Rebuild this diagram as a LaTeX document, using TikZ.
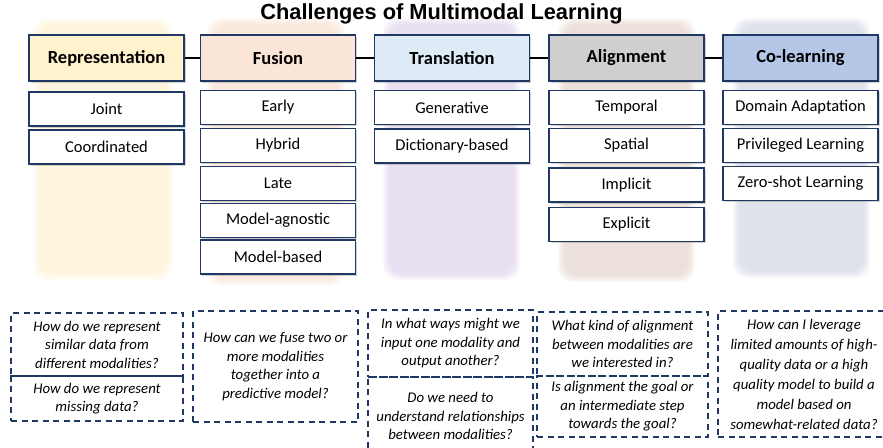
\documentclass[tikz,border=0pt]{standalone}
\usepackage{fontspec}
\setmainfont{Carlito}
\newfontfamily\titlefont{Liberation Sans}
\usetikzlibrary{calc}
\usetikzlibrary{shadows}

\definecolor{navy}{HTML}{1F3864}
\definecolor{repcol}{HTML}{FFF2CC}
\definecolor{fuscol}{HTML}{FBE5D6}
\definecolor{transcol}{HTML}{DEEBF7}
\definecolor{aligncol}{HTML}{D0CECE}
\definecolor{colcol}{HTML}{B4C7E7}
\definecolor{repbg}{HTML}{FFF0CC}
\definecolor{fusbg}{HTML}{F8DCCB}
\definecolor{transbg}{HTML}{DCCDEA}
\definecolor{alignbg}{HTML}{E2D1C6}
\definecolor{colbg}{HTML}{CDD2DF}

\tikzset{
  head/.style={draw=navy, line width=1.5pt, minimum width=155pt, minimum height=46pt,
    font=\bfseries\fontsize{18.5}{20}\selectfont,
    drop shadow={shadow xshift=1.5pt, shadow yshift=-1.5pt, opacity=0.35}},
  sub/.style={draw=navy, fill=white, line width=1.5pt, minimum width=155pt, minimum height=34pt,
    font=\fontsize{16.5}{18}\selectfont,
    drop shadow={shadow xshift=1.5pt, shadow yshift=-1.5pt, opacity=0.35}},
  qbox/.style={draw=navy, line width=1.5pt, dash pattern=on 6pt off 4.5pt, align=center,
    inner sep=0pt, font=\itshape\fontsize{14.8}{18.5}\selectfont},
  link/.style={line width=2pt, black},
}

\begin{document}
\begin{tikzpicture}[x=1pt, y=-1pt]
  \useasboundingbox (0,0) rectangle (883,447);

  % fonds flous
  \foreach \xa/\xb/\yb/\col in {33/173/280/repbg, 207/345/285/fusbg, 383/520/280/transbg, 558/695/282/alignbg, 733/870/278/colbg}{
    \foreach \i in {0,...,7}
      \fill[\col, opacity=0.12, rounded corners=14pt] (\xa+\i,18+\i) rectangle (\xb-\i,\yb-\i);
  }

  % titre
  \node[font=\titlefont\bfseries\fontsize{21.8}{24}\selectfont] (title) at (441.5,14) {Challenges of Multimodal Learning};

  % en-têtes
  \node[head, fill=repcol] (rep) at (106.5,58) {Representation};
  \node[head, fill=fuscol] (fus) at (278,58) {Fusion};
  \node[head, fill=transcol] (trans) at (452,58) {Translation};
  \node[head, fill=aligncol] (align) at (626.5,58) {Alignment};
  \node[head, fill=colcol] (colearn) at (800.5,58) {Co-learning};
  \draw[link] (rep) -- (fus);
  \draw[link] (fus) -- (trans);
  \draw[link] (trans) -- (align);
  \draw[link] (align) -- (colearn);

  % représentation
  \coordinate (A) at (106.5,0);
  \node[sub] (joint) at ($(A)+(0,109)$) {Joint};
  \node[sub] (coord) at ($(A)+(0,147)$) {Coordinated};

  % fusion
  \coordinate (A) at (278,0);
  \node[sub] (early) at ($(A)+(0,107.5)$) {Early};
  \node[sub] (hybrid) at ($(A)+(0,145.5)$) {Hybrid};
  \node[sub] (late) at ($(A)+(0,183.5)$) {Late};
  \node[sub] (agnostic) at ($(A)+(0,220.5)$) {Model-agnostic};
  \node[sub] (based) at ($(A)+(0,257)$) {Model-based};

  % traduction
  \coordinate (A) at (452,0);
  \node[sub] (gen) at ($(A)+(0,107.5)$) {Generative};
  \node[sub] (dict) at ($(A)+(0,146)$) {Dictionary-based};

  % alignement
  \coordinate (A) at (626.5,0);
  \node[sub] (temporal) at ($(A)+(0,107.5)$) {Temporal};
  \node[sub] (spatial) at ($(A)+(0,145.5)$) {Spatial};
  \node[sub] (implicit) at ($(A)+(0,185)$) {Implicit};
  \node[sub] (explicit) at ($(A)+(0,224.5)$) {Explicit};

  % co-apprentissage
  \coordinate (A) at (800.5,0);
  \node[sub] (domain) at ($(A)+(0,107.5)$) {Domain Adaptation};
  \node[sub] (privileged) at ($(A)+(0,145.5)$) {Privileged Learning};
  \node[sub] (zeroshot) at ($(A)+(0,183.5)$) {Zero-shot Learning};

  % questions
  \node[qbox, minimum width=172pt, minimum height=63pt] (repqa) at (97,344.5)
    {How do we represent\\similar data from\\different modalities?};
  \node[qbox, minimum width=172pt, minimum height=45pt] (repqb) at (97,398.5)
    {How do we represent\\missing data?};
  \node[qbox, minimum width=165pt, minimum height=111pt] (fusq) at (275.5,366.5)
    {How can we fuse two or\\more modalities\\together into a\\predictive model?};
  \node[qbox, minimum width=165pt, minimum height=67pt] (transqa) at (450.5,343.5)
    {In what ways might we\\input one modality and\\output another?};
  \node[qbox, minimum width=165pt, minimum height=78pt] (transqb) at (450.5,416)
    {Do we need to\\understand relationships\\between modalities?};
  \node[qbox, minimum width=171pt, minimum height=64pt] (alignqa) at (622.5,344)
    {What kind of alignment\\between modalities are\\we interested in?};
  \node[qbox, minimum width=171pt, minimum height=61pt] (alignqb) at (622.5,406.5)
    {Is alignment the goal or\\an intermediate step\\towards the goal?};
  \node[qbox, minimum width=172pt, minimum height=126pt, font=\itshape\fontsize{14.8}{20}\selectfont] (colq) at (804,374)
    {How can I leverage\\limited amounts of high-\\quality data or a high\\quality model to build a\\model based on\\somewhat-related data?};
\end{tikzpicture}
\end{document}
